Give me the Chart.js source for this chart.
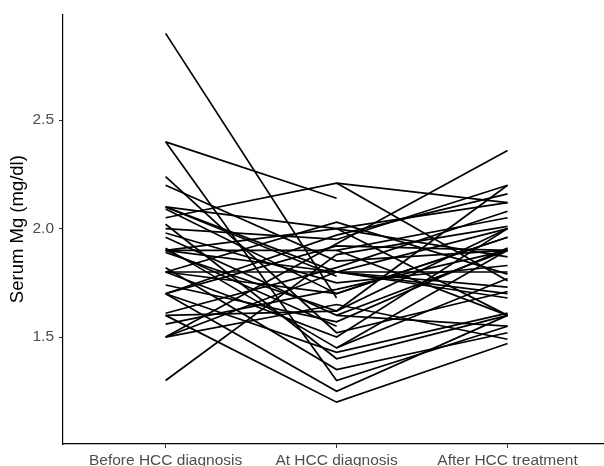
<!DOCTYPE html>
<html>
<head>
<meta charset="utf-8">
<script src="https://cdn.jsdelivr.net/npm/chart.js@4/dist/chart.umd.min.js"></script>
<style>
html,body{margin:0;padding:0;background:#fff;overflow:hidden;}
#wrap{width:604px;height:466px;position:relative;}
</style>
</head>
<body>
<div id="wrap"><canvas id="c" width="604" height="466"></canvas></div>
<script>
const categories = ["Before HCC diagnosis", "At HCC diagnosis", "After HCC treatment"];
const yTicks = [1.5, 2.0, 2.5];
// one entry per patient (null = missing)
const beforeDx = [2.90, 2.40, 2.40, 2.24, 2.20, 2.10, 2.10, 2.09, 2.05, 2.02, 2.00, 1.98, 1.96, 1.91, 1.90, 1.90, 1.89, 1.82, 1.80, 1.80, 1.80, 1.74, 1.70, 1.70, 1.70, 1.61, 1.60, 1.56, 1.50, 1.50, 1.50, 1.30, 2.10, 1.90, null, null, null, null, null, null, 1.80, 1.60, 1.70, 1.90];
const atDx     = [1.68, 2.14, 1.30, 1.52, 1.85, 1.80, 2.00, 1.70, 2.21, 1.40, 1.95, 1.75, 1.60, 1.45, 1.90, 2.00, 1.62, 1.35, 1.80, 1.50, 2.03, 1.57, 1.97, 1.43, 1.25, 1.82, 1.20, 1.72, 1.93, 1.65, 1.80, 1.88, 1.78, 1.55, 2.21, 2.00, 1.80, 1.60, 1.45, 1.90, 1.70, 1.62, 1.92, 1.80];
const afterTx  = [null, null, 1.55, 1.71, 1.90, 2.00, 1.60, 1.96, 2.12, 1.60, 2.20, 1.83, 1.90, 1.77, 2.05, 1.87, 2.00, 1.52, 1.68, 2.00, 1.79, 1.91, 2.16, 1.61, 1.60, 2.08, 1.47, 1.90, 2.36, 1.49, 1.80, 2.01, null, null, 1.76, 2.12, 1.70, 1.55, 1.90, 1.60, 1.96, 2.20, 1.90, 1.73];

const datasets = beforeDx.map((b, i) => ({
  data: [
    {x: 1, y: b},
    {x: 2, y: atDx[i]},
    {x: 3, y: afterTx[i]}
  ],
  borderColor: '#000',
  borderWidth: 1.7,
  pointRadius: 0,
  tension: 0,
  spanGaps: false,
  fill: false
}));

const FONT = "'Liberation Sans', Arial, sans-serif";

new Chart(document.getElementById('c'), {
  type: 'line',
  data: { datasets },
  options: {
    responsive: false,
    animation: false,
    events: [],
    layout: { padding: { top: 13, right: 0, bottom: 0, left: 0 } },
    plugins: { legend: { display: false }, tooltip: { enabled: false } },
    scales: {
      x: {
        type: 'linear',
        min: 0.4,
        max: 3.564,
        afterBuildTicks: s => { s.ticks = [1, 2, 3].map(v => ({ value: v })); },
        afterFit: s => { s.height = 22; },
        ticks: {
          callback: v => categories[v - 1],
          color: '#4d4d4d',
          font: { family: FONT, size: 15.5 },
          padding: 3,
          maxRotation: 0,
          autoSkip: false
        },
        grid: { drawOnChartArea: false, drawTicks: true, tickLength: 4, color: '#333' },
        border: { display: true, color: '#000', width: 1.2 }
      },
      y: {
        type: 'linear',
        min: 1.007,
        max: 2.988,
        afterBuildTicks: s => { s.ticks = yTicks.map(v => ({ value: v })); },
        afterFit: s => { s.width = 63; },
        ticks: {
          callback: v => v.toFixed(1),
          color: '#4d4d4d',
          font: { family: FONT, size: 15.5 },
          padding: 5
        },
        grid: { drawOnChartArea: false, drawTicks: true, tickLength: 4, color: '#333' },
        border: { display: true, color: '#000', width: 1.2 },
        title: {
          display: true,
          text: 'Serum Mg (mg/dl)',
          color: '#000',
          font: { family: FONT, size: 18.5 },
          padding: { top: 7, bottom: 0 }
        }
      }
    }
  }
});
</script>
</body>
</html>
